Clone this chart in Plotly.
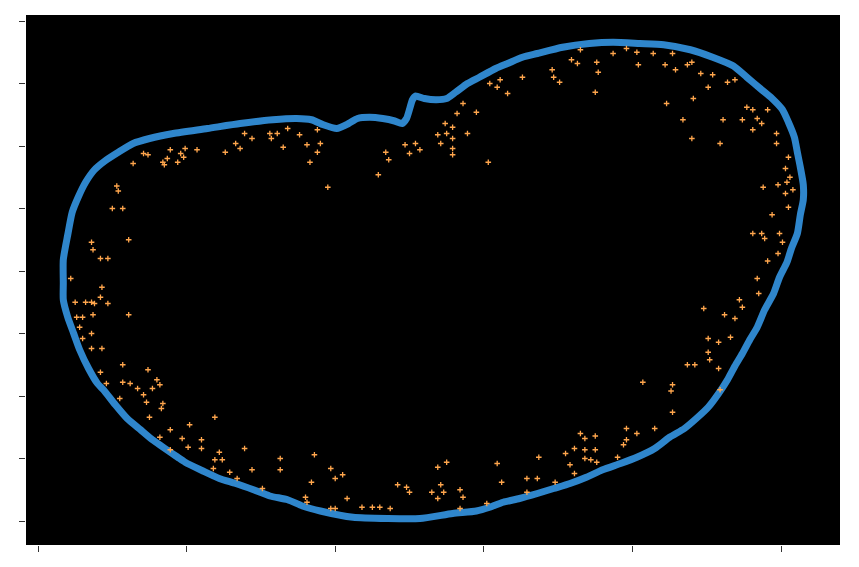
import plotly.graph_objects as go

# Contour (closed boundary) coordinates
contour_x = [17, 17, 20, 23, 27, 32, 38, 45, 54, 64, 75, 91, 114, 136, 158, 174, 184, 192, 201, 209,
             215, 223, 232, 240, 245, 248, 252, 254, 260, 268, 275, 281, 289, 297, 308, 316, 326, 336, 353, 371,
             387, 405, 421, 439, 454, 468, 477, 486, 494, 501, 505, 509, 511, 513, 515, 515, 513, 511, 507, 504,
             499, 495, 489, 484, 479, 474, 469, 464, 458, 451, 443, 435, 425, 415, 403, 392, 380, 369, 358, 347,
             336, 324, 313, 304, 295, 279, 257, 235, 212, 190, 178, 168, 156, 145, 133, 122, 111, 99, 94, 77,
             69, 60, 52, 44, 40, 34, 28, 24, 20, 17, 17]
contour_y = [210, 191, 171, 153, 141, 129, 119, 112, 105, 98, 94, 90, 86, 82, 79, 78, 79, 83, 86, 82,
             78, 77, 78, 80, 82, 78, 63, 60, 62, 63, 62, 57, 50, 45, 38, 34, 29, 26, 21, 18,
             17, 18, 19, 23, 29, 36, 45, 54, 62, 71, 81, 93, 105, 117, 131, 143, 155, 170, 182, 193,
             205, 218, 231, 245, 255, 266, 276, 287, 298, 309, 318, 326, 333, 342, 349, 354, 359, 365, 370, 374,
             378, 382, 385, 389, 392, 394, 398, 398, 397, 392, 388, 383, 380, 375, 370, 366, 360, 353, 349, 335,
             327, 318, 307, 295, 290, 278, 263, 250, 237, 223, 210]

# Scattered points
points_x = [53, 54, 50, 57, 64, 71, 74, 84, 85, 89, 87, 96, 94, 98, 99, 107, 126, 133, 136, 139,
            144, 156, 157, 161, 165, 168, 176, 181, 183, 188, 190, 188, 195,
            36, 61, 37, 42, 47, 22, 43, 42, 25, 32, 36, 38, 47, 26, 30, 37, 61, 28, 36, 30, 36, 43,
            57, 74, 42, 57, 62, 46, 67, 80, 82, 71, 73, 84, 83, 75, 119, 102, 77, 55,
            89, 82, 97, 110, 101, 110, 89, 122, 119, 124, 118, 129, 134,
            139, 144, 151, 163, 163, 186, 184, 197, 200, 205, 180, 181, 208, 197, 200, 218, 225, 230, 237,
            242, 248, 250, 265, 269, 275, 271, 273, 269, 284, 286, 284,
            451, 458, 451, 452, 437, 442, 458, 407, 427, 426, 427, 396, 415, 365, 375, 403, 368, 396, 394,
            361, 368, 375, 355, 337, 368, 372, 376, 390, 309, 358, 329, 336, 312, 361, 348, 329, 302,
            505, 494, 481, 487, 489, 499, 501, 498, 491, 484, 485, 472, 474, 448, 462, 469, 466, 459,
            365, 387, 396, 403, 414, 427, 346, 347, 351, 359, 363, 376, 377, 375, 404, 422, 429, 437, 440,
            446, 454, 451, 464, 469, 423, 441, 477, 481, 491, 434, 461, 474, 484, 487, 481, 497, 497, 440,
            459, 505, 503, 506, 498, 488, 504, 503, 508,
            229, 234, 236, 247, 254, 250, 257, 269, 271, 274, 279, 275, 279, 279, 279, 282, 286, 289, 295,
            303, 304, 309, 311, 316, 326]
points_y = [132, 136, 150, 150, 114, 106, 107, 113, 115, 103, 110, 106, 113, 109, 102, 103, 105, 98, 102, 90,
            94, 90, 94, 90, 101, 86, 91, 99, 113, 87, 98, 105, 133,
            177, 175, 183, 190, 190, 206, 213, 221, 225, 225, 225, 226, 226, 237, 237, 235, 235, 245, 250, 254, 262, 262,
            275, 279, 281, 289, 290, 290, 294, 287, 291, 299, 305, 306, 310, 317, 317, 323, 294, 302,
            327, 333, 334, 335, 341, 342, 343, 345, 351, 351, 358, 361, 366,
            342, 359, 374, 350, 359, 347, 369, 358, 366, 363, 381, 385, 382, 390, 390, 389, 389, 389, 390,
            371, 373, 377, 377, 357, 353, 371, 377, 382, 375, 381, 390,
            254, 257, 265, 271, 275, 275, 278, 289, 291, 296, 313, 326, 326, 330, 332, 330, 334, 335, 339,
            342, 343, 343, 346, 349, 350, 351, 353, 349, 354, 355, 366, 366, 369, 362, 369, 377, 386,
            149, 155, 170, 170, 174, 170, 177, 186, 192, 206, 218, 223, 229, 230, 235, 238, 253, 295,
            23, 26, 22, 25, 26, 26, 39, 45, 49, 31, 34, 33, 41, 57, 35, 35, 39, 35, 33,
            42, 43, 53, 49, 47, 66, 62, 69, 71, 71, 79, 79, 79, 78, 82, 87, 90, 98, 94,
            98, 109, 118, 125, 131, 133, 129, 138, 135,
            123, 105, 111, 99, 98, 106, 103, 91, 98, 82, 85, 90, 94, 102, 107, 74, 66, 90, 73,
            113, 50, 53, 47, 58, 45]

x_ticks = [0, 100, 200, 300, 400, 500]
y_ticks = [0, 50, 100, 150, 200, 250, 300, 350, 400]

fig = go.Figure()
fig.add_trace(go.Scatter(
    x=contour_x, y=contour_y, mode="lines",
    line=dict(color="#2f86cc", width=7, shape="spline", smoothing=0.6),
    hoverinfo="skip", showlegend=False,
))
fig.add_trace(go.Scatter(
    x=points_x, y=points_y, mode="markers",
    marker=dict(symbol="cross-thin", size=4,
                line=dict(color="#ffa64d", width=1.3)),
    showlegend=False,
))

fig.update_layout(
    width=859, height=567,
    margin=dict(l=26, r=19, t=15, b=22),
    paper_bgcolor="white",
    plot_bgcolor="black",
    xaxis=dict(range=[-8.1, 539.7], tickvals=x_ticks, showticklabels=False,
               ticks="outside", ticklen=6, tickwidth=1, tickcolor="#333333",
               showgrid=False, zeroline=False, showline=False),
    yaxis=dict(range=[419.2, -4.8], tickvals=y_ticks, showticklabels=False,
               ticks="outside", ticklen=6, tickwidth=1, tickcolor="#333333",
               showgrid=False, zeroline=False, showline=False),
)

fig.write_html("out.html")
